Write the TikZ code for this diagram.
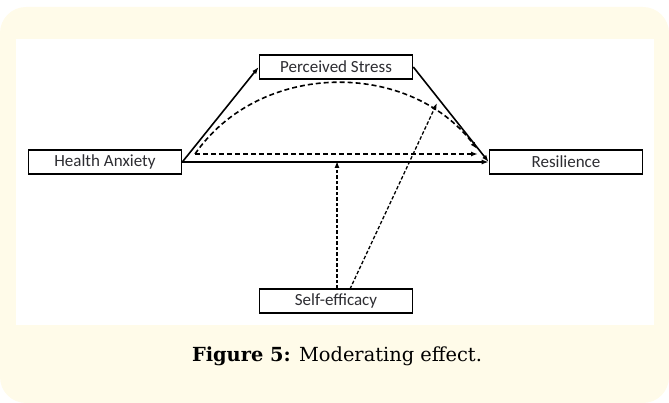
\documentclass[tikz,border=0pt]{standalone}
\usepackage{fontspec}
\setmainfont{DejaVu Serif}
\newfontfamily\boxfont{Carlito}
\usetikzlibrary{arrows.meta}
\definecolor{cream}{RGB}{255,251,233}
\definecolor{boxtext}{RGB}{45,45,50}
\begin{document}
\begin{tikzpicture}[x=1pt,y=-1pt,
  varbox/.style={draw=black,line width=1.6pt,fill=white,minimum width=153pt,minimum height=23.5pt,inner sep=0pt,font=\boxfont\fontsize{17}{19}\selectfont,text=boxtext},
  tip/.style={-{Latex[length=7pt,width=5pt]}},
  solidarr/.style={tip,line width=1.6pt},
  dasharr/.style={tip,line width=1.6pt,dash pattern=on 5pt off 3pt},
  finearr/.style={tip,line width=1.3pt,dash pattern=on 3.5pt off 2pt}]
\useasboundingbox (0,0) rectangle (669,403);
\fill[cream,rounded corners=26pt] (0,7) rectangle (669,403);
\fill[white] (16,39) rectangle (654,325);
\node[varbox] (ha) at (105,162) {Health Anxiety};
\node[varbox] (ps) at (336,67) {Perceived Stress};
\node[varbox] (res) at (566,162) {Resilience};
\node[varbox] (se) at (336,301) {Self-efficacy};
\coordinate (ds) at (195,154);
\coordinate (de) at (478,154);
\coordinate (ce) at (477,149);
\coordinate (mod) at (337,161);
\coordinate (sea) at (337,289);
\coordinate (seb) at (350,289);
\coordinate (tipb) at (437,103);
\draw[solidarr] (ha.east) -- (ps.west);
\draw[solidarr] (ps.east) -- (res.west);
\draw[solidarr] (ha.east) -- (res.west);
\draw[dasharr] (ds) -- (de);
\draw[dasharr] (ds) .. controls (260,60) and (410,60) .. (ce);
\draw[finearr] (sea) -- (mod);
\draw[finearr] (seb) -- (tipb);
\node[font=\fontsize{19.4}{23}\selectfont,anchor=base,inner sep=0pt] (cap) at (337,361) {\textbf{Figure 5:} Moderating effect.};
\end{tikzpicture}
\end{document}
